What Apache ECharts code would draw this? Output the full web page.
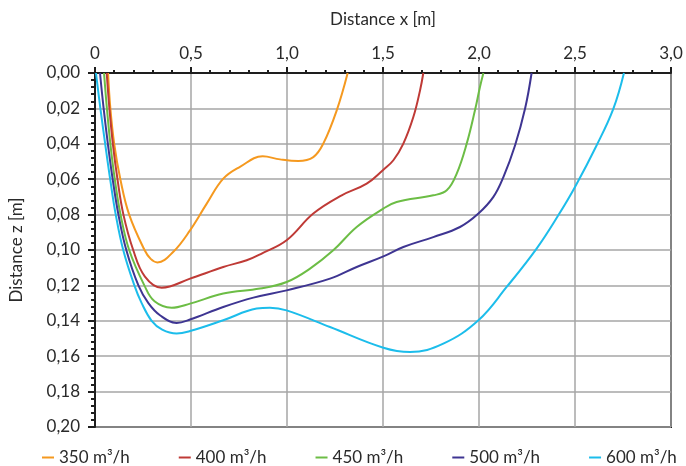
<!DOCTYPE html>
<html><head><meta charset="utf-8">
<script src="https://cdn.jsdelivr.net/npm/echarts@6/dist/echarts.min.js"></script>
<style>html,body{margin:0;padding:0;background:#fff}#c{width:686px;height:466px}</style>
</head><body><div id="c"></div>
<script>
const seriesNames = ['350 m³/h', '400 m³/h', '450 m³/h', '500 m³/h', '600 m³/h'];
const seriesColors = ['#f5991f', '#bf3a36', '#6cbd45', '#3e3592', '#1cbdeb'];

const x350 = [0.068, 0.080, 0.100, 0.132, 0.178, 0.258, 0.290, 0.325, 0.408, 0.495, 0.582, 0.668, 0.755, 0.873, 0.964, 1.059, 1.137, 1.189, 1.259, 1.316];
const z350 = [0.000, 0.020, 0.040, 0.060, 0.080, 0.100, 0.105, 0.107, 0.101, 0.0889, 0.0738, 0.0597, 0.053, 0.0471, 0.0488, 0.0497, 0.0475, 0.0399, 0.0211, 0.000];

const x400 = [0.061, 0.075, 0.093, 0.117, 0.148, 0.199, 0.260, 0.347, 0.495, 0.668, 0.790, 0.868, 0.998, 1.137, 1.285, 1.415, 1.502, 1.554, 1.606, 1.658, 1.693, 1.710];
const z400 = [0.000, 0.020, 0.040, 0.060, 0.080, 0.100, 0.115, 0.1213, 0.1162, 0.1096, 0.1058, 0.102, 0.0945, 0.0794, 0.0691, 0.0625, 0.0546, 0.0493, 0.0399, 0.0249, 0.0098, 0.000];

const x450 = [0.047, 0.062, 0.080, 0.103, 0.133, 0.178, 0.257, 0.310, 0.399, 0.495, 0.668, 0.859, 0.998, 1.120, 1.241, 1.363, 1.502, 1.571, 1.762, 1.832, 1.884, 1.936, 1.979, 2.005, 2.023];
const z450 = [0.000, 0.020, 0.040, 0.060, 0.080, 0.100, 0.120, 0.129, 0.1326, 0.1303, 0.1246, 0.1218, 0.1181, 0.1105, 0.1002, 0.087, 0.0766, 0.0729, 0.0691, 0.0663, 0.0568, 0.0399, 0.0211, 0.0079, 0.000];

const x500 = [0.026, 0.045, 0.067, 0.092, 0.122, 0.163, 0.226, 0.278, 0.340, 0.425, 0.495, 0.668, 0.825, 0.998, 1.224, 1.363, 1.502, 1.606, 1.762, 1.901, 1.997, 2.075, 2.127, 2.188, 2.240, 2.274];
const z500 = [0.000, 0.020, 0.040, 0.060, 0.080, 0.100, 0.120, 0.130, 0.137, 0.1412, 0.1393, 0.1322, 0.1269, 0.1228, 0.1162, 0.1096, 0.1036, 0.0983, 0.0927, 0.087, 0.0794, 0.070, 0.0588, 0.0408, 0.0201, 0.000];

const x600 = [0.005, 0.028, 0.053, 0.079, 0.108, 0.147, 0.205, 0.243, 0.295, 0.350, 0.425, 0.495, 0.668, 0.842, 0.911, 0.998, 1.224, 1.502, 1.641, 1.814, 1.997, 2.144, 2.300, 2.413, 2.500, 2.613, 2.700, 2.755];
const z600 = [0.000, 0.020, 0.040, 0.060, 0.080, 0.100, 0.120, 0.130, 0.140, 0.145, 0.1472, 0.1458, 0.1397, 0.1331, 0.1326, 0.1341, 0.1435, 0.1552, 0.1576, 0.1529, 0.1397, 0.1209, 0.0992, 0.0804, 0.0644, 0.0408, 0.0201, 0.000];

const xTickLabels = ['0', '0,5', '1,0', '1,5', '2,0', '2,5', '3,0'];
const zTickLabels = ['0,00', '0,02', '0,04', '0,06', '0,08', '0,10', '0,12', '0,14', '0,16', '0,18', '0,20'];

const xs = [x350, x400, x450, x500, x600];
const zs = [z350, z400, z450, z500, z600];

const FONT = 'Lato';
const TXT = '#2a2a2a';
const FS = 17;

const chart = echarts.init(document.getElementById('c'), null, {renderer: 'canvas'});
chart.setOption({
  animation: false,
  backgroundColor: '#fff',
  textStyle: {fontFamily: FONT, color: TXT},
  grid: {left: 95, right: 15, top: 73, bottom: 39, show: true, borderColor: '#1e1e1e', borderWidth: 2},
  legend: {
    top: 449, left: 42, right: 0, padding: 0, itemGap: 49, icon: 'rect', itemWidth: 12, itemHeight: 2,
    textStyle: {fontFamily: FONT, fontSize: FS, color: TXT},
    data: seriesNames
  },
  xAxis: {
    type: 'value', position: 'top', min: 0, max: 3, interval: 0.5,
    name: 'Distance x [m]', nameLocation: 'middle', nameGap: 45,
    nameTextStyle: {fontFamily: FONT, fontSize: FS, color: TXT},
    axisLine: {show: true, lineStyle: {color: '#1e1e1e', width: 2}},
    axisTick: {show: true, length: 6, lineStyle: {color: '#1e1e1e', width: 2}},
    minorTick: {show: true, splitNumber: 5, length: 3, lineStyle: {color: '#1e1e1e', width: 2}},
    splitLine: {show: true, lineStyle: {color: '#a6a6a6', width: 1.5}},
    axisLabel: {margin: 11, fontSize: FS, color: TXT, fontFamily: FONT,
      formatter: v => xTickLabels[Math.round(v / 0.5)]}
  },
  yAxis: {
    type: 'value', inverse: true, min: 0, max: 0.2, interval: 0.02,
    name: 'Distance z [m]', nameLocation: 'middle', nameGap: 70,
    nameTextStyle: {fontFamily: FONT, fontSize: FS, color: TXT},
    axisLine: {show: true, lineStyle: {color: '#1e1e1e', width: 2}},
    axisTick: {show: true, length: 7, lineStyle: {color: '#1e1e1e', width: 2}},
    minorTick: {show: true, splitNumber: 5, length: 4, lineStyle: {color: '#1e1e1e', width: 2}},
    splitLine: {show: true, lineStyle: {color: '#a6a6a6', width: 1.5}},
    axisLabel: {margin: 15, fontSize: FS, color: TXT, fontFamily: FONT,
      formatter: v => zTickLabels[Math.round(v / 0.02)]}
  },
  series: seriesNames.map((n, k) => ({
    name: n, type: 'line', smooth: 0.4, symbol: 'none', clip: true,
    color: seriesColors[k],
    lineStyle: {width: 2, color: seriesColors[k]},
    data: xs[k].map((v, i) => [v, zs[k][i]])
  }))
});
</script>
</body></html>
